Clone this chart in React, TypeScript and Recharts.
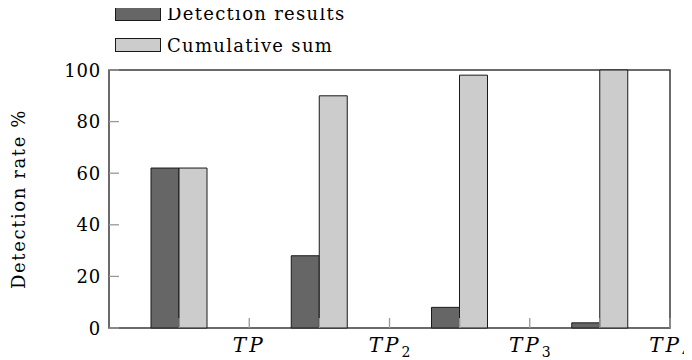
import React from 'react';
import { BarChart, Bar, XAxis, YAxis, ReferenceArea } from 'recharts';

const categories = ['TP', 'TP2', 'TP3', 'TP4'];
const detectionResults = [62, 28, 8, 2];
const cumulativeSum = [62, 90, 98, 100];
const yTicks = [0, 20, 40, 60, 80, 100];
const xLabelMain = ['TP', 'TP', 'TP', 'TP'];
const xLabelSub = ['', '2', '3', '4'];
const seriesNames = ['Detection results', 'Cumulative sum'];
const seriesColors = ['#666666', '#cccccc'];

const data = categories.map((c, i) => ({
  category: c,
  detection: detectionResults[i],
  cumulative: cumulativeSum[i],
}));

const FONT = 'DejaVu Serif';
const FRAME = '#3a3a3a';
const TICK = '#999';
const TICK_W = 1.3;
const TICK_LEN = 10;

const halfBand = (props: any) => {
  const w = Number(props.width);
  const n = Number(props.visibleTicksCount) || categories.length;
  return w / n / 2;
};

const BottomTick = (props: any) => {
  const { x, y, index } = props;
  const h = halfBand(props);
  const lx = x + h;
  return (
    <g>
      <line x1={x} y1={y} x2={x} y2={y - TICK_LEN} stroke={TICK} strokeWidth={TICK_W} />
      <line x1={lx} y1={y} x2={lx} y2={y - TICK_LEN} stroke={TICK} strokeWidth={TICK_W} />
      <text x={lx} y={y + 24} textAnchor="middle" fontFamily={FONT} fontSize={20} fill="#000">
        <tspan fontStyle="italic" letterSpacing={3}>{xLabelMain[index]}</tspan>
        {xLabelSub[index] ? <tspan dy={5} fontSize={14}>{xLabelSub[index]}</tspan> : null}
      </text>
    </g>
  );
};

const TopTick = (props: any) => {
  const { x, y } = props;
  const h = halfBand(props);
  return (
    <g>
      <line x1={x} y1={y} x2={x} y2={y + TICK_LEN} stroke={TICK} strokeWidth={TICK_W} />
      <line x1={x + h} y1={y} x2={x + h} y2={y + TICK_LEN} stroke={TICK} strokeWidth={TICK_W} />
    </g>
  );
};

const LeftTick = (props: any) => {
  const { x, y, payload } = props;
  return (
    <g>
      <line x1={x} y1={y} x2={x + TICK_LEN} y2={y} stroke={TICK} strokeWidth={TICK_W} />
      <text x={x - 8} y={y + 6.5} textAnchor="end" fontFamily={FONT} fontSize={18} letterSpacing={0.8} fill="#000">
        {payload.value}
      </text>
    </g>
  );
};

const RightTick = (props: any) => {
  const { x, y } = props;
  return <line x1={x} y1={y} x2={x - TICK_LEN} y2={y} stroke={TICK} strokeWidth={TICK_W} />;
};

const YLabel = (props: any) => {
  const vb = props.viewBox || { x: 41, y: 62, width: 60, height: 258 };
  const cx = vb.x - 24;
  const cy = vb.y + vb.height / 2;
  return (
    <text
      x={cx}
      y={cy}
      transform={`rotate(-90, ${cx}, ${cy})`}
      textAnchor="middle"
      fontFamily={FONT}
      fontSize={18}
      letterSpacing={1.6}
      fill="#000"
    >
      Detection rate %
    </text>
  );
};

export default function App() {
  return (
    <div style={{ position: 'relative', width: 684, height: 352 }}>
      <BarChart
        width={684}
        height={352}
        data={data}
        margin={{ top: 62, right: 22, bottom: 2, left: 41 }}
        barGap={0}
        barSize={28}
      >
        <XAxis
          xAxisId="bottom"
          dataKey="category"
          type="category"
          interval={0}
          height={30}
          tickLine={false}
          tickSize={0}
          tickMargin={0}
          axisLine={false}
          tick={<BottomTick />}
        />
        <XAxis
          xAxisId="top"
          orientation="top"
          dataKey="category"
          type="category"
          interval={0}
          height={0}
          tickLine={false}
          tickSize={0}
          tickMargin={0}
          axisLine={false}
          tick={<TopTick />}
        />
        <YAxis
          yAxisId="left"
          type="number"
          domain={[0, 100]}
          ticks={yTicks}
          interval={0}
          width={60}
          tickLine={false}
          tickSize={0}
          tickMargin={0}
          axisLine={false}
          tick={<LeftTick />}
          label={<YLabel />}
        />
        <YAxis
          yAxisId="right"
          orientation="right"
          type="number"
          domain={[0, 100]}
          ticks={yTicks}
          interval={0}
          width={0}
          tickLine={false}
          tickSize={0}
          tickMargin={0}
          axisLine={false}
          tick={<RightTick />}
        />
        <Bar
          xAxisId="bottom"
          yAxisId="left"
          dataKey="detection"
          name={seriesNames[0]}
          fill={seriesColors[0]}
          stroke="#1a1a1a"
          strokeWidth={1}
          isAnimationActive={false}
        />
        <Bar
          xAxisId="bottom"
          yAxisId="left"
          dataKey="cumulative"
          name={seriesNames[1]}
          fill={seriesColors[1]}
          stroke="#1a1a1a"
          strokeWidth={1}
          isAnimationActive={false}
        />
        <ReferenceArea
          xAxisId="bottom"
          yAxisId="left"
          y1={0}
          y2={100}
          fill="none"
          fillOpacity={0}
          stroke={FRAME}
          strokeWidth={1.5}
          strokeOpacity={1}
        />
      </BarChart>
      <svg
        width={692}
        height={60}
        style={{ position: 'absolute', left: -8, top: -8, pointerEvents: 'none', overflow: 'visible' }}
      >
        {seriesNames.map((name, i) => (
          <g key={name}>
            <rect
              x={115.5}
              y={i === 0 ? 7.5 : 38.5}
              width={45}
              height={13}
              fill={seriesColors[i]}
              stroke="#1a1a1a"
              strokeWidth={1}
            />
            <text
              x={167}
              y={i === 0 ? 19.5 : 52}
              fontFamily={FONT}
              fontSize={18}
              letterSpacing={1.3}
              fill="#000"
            >
              {name}
            </text>
          </g>
        ))}
      </svg>
    </div>
  );
}
